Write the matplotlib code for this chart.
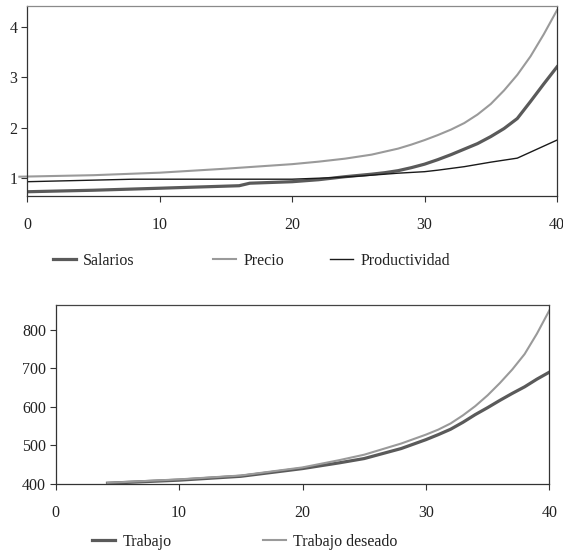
import matplotlib
matplotlib.use("Agg")
import matplotlib.pyplot as plt
from matplotlib.lines import Line2D

plt.rcParams['font.family'] = ['Liberation Serif', 'DejaVu Serif']

# ---- Top chart data ----
t_sal = [0, 5, 10, 16, 16.8, 20, 22, 24, 26, 27, 28, 29, 30, 31, 32, 33, 34, 35, 36, 37, 38, 39, 40]
salarios = [0.72, 0.75, 0.79, 0.84, 0.89, 0.92, 0.96, 1.02, 1.07, 1.10, 1.14, 1.20, 1.27, 1.36, 1.46, 1.57, 1.68, 1.82, 1.98, 2.18, 2.52, 2.87, 3.21]

t_pre = [-0.6, 5, 10, 15, 20, 22, 24, 26, 28, 29, 30, 31, 32, 33, 34, 35, 36, 37, 38, 39, 40]
precio = [1.02, 1.05, 1.10, 1.18, 1.27, 1.32, 1.38, 1.46, 1.58, 1.66, 1.75, 1.85, 1.96, 2.09, 2.26, 2.47, 2.74, 3.05, 3.42, 3.86, 4.34]

t_pro = [0, 8, 20, 23, 25, 28, 30, 31, 33, 35, 37, 40]
productividad = [0.92, 0.97, 0.97, 1.0, 1.03, 1.09, 1.12, 1.15, 1.22, 1.31, 1.39, 1.75]

top_labels = ["Salarios", "Precio", "Productividad"]

# ---- Bottom chart data ----
t_tra = [4.2, 10, 15, 20, 23, 25, 28, 30, 31, 32, 33, 34, 35, 36, 37, 38, 39, 40]
trabajo = [402, 410, 420, 440, 455, 466, 492, 515, 528, 542, 560, 580, 598, 617, 635, 652, 672, 690]

t_des = [4.2, 10, 15, 20, 23, 25, 28, 30, 31, 32, 33, 34, 35, 36, 37, 38, 39, 40]
trabajo_deseado = [403, 412, 422, 443, 462, 476, 505, 528, 541, 557, 578, 602, 630, 662, 697, 737, 790, 850]

bottom_labels = ["Trabajo", "Trabajo deseado"]

C_DARK = "#5a5a5a"
C_LIGHT = "#9a9a9a"
C_BLACK = "#1a1a1a"
W, H = 563, 552
FS = 11.5

fig = plt.figure(figsize=(W / 100, H / 100), dpi=100)

def box(l, r, b, t):
    return [l / W, 1 - b / H, (r - l) / W, (b - t) / H]

def style(ax, top_color):
    ax.spines["top"].set_color(top_color)
    for s in ("left", "bottom", "right"):
        ax.spines[s].set_color("#333333")
    for s in ax.spines.values():
        s.set_linewidth(0.9)
    ax.tick_params(axis="both", direction="out", length=4, width=0.8,
                   colors="#333333", labelsize=FS, labelcolor="#222222")
    ax.tick_params(axis="x", pad=11)
    ax.tick_params(axis="y", pad=3)

ax1 = fig.add_axes(box(27.3, 557, 196, 5.7))
ax1.plot(t_sal, salarios, color=C_DARK, lw=2.3, solid_joinstyle="round")
ax1.plot(t_pre, precio, color=C_LIGHT, lw=1.5, clip_on=False, solid_joinstyle="round")
ax1.plot(t_pro, productividad, color=C_BLACK, lw=1.0, solid_joinstyle="round")
ax1.set_xlim(0, 40)
ax1.set_ylim(0.635, 4.43)
ax1.set_xticks([0, 10, 20, 30, 40])
ax1.set_yticks([1, 2, 3, 4])
style(ax1, "#8a8a8a")

ax2 = fig.add_axes(box(55.7, 549.3, 484, 304.7))
ax2.plot(t_tra, trabajo, color=C_DARK, lw=2.3, solid_joinstyle="round")
ax2.plot(t_des, trabajo_deseado, color=C_LIGHT, lw=1.5, solid_joinstyle="round")
ax2.set_xlim(0, 40)
ax2.set_ylim(400, 865)
ax2.set_xticks([0, 10, 20, 30, 40])
ax2.set_yticks([400, 500, 600, 700, 800])
style(ax2, "#444444")

def entry(label, color, lw, x, y):
    h = Line2D([], [], color=color, lw=lw)
    fig.legend([h], [label], loc="center left", bbox_to_anchor=(x / W, 1 - y / H),
               frameon=False, fontsize=FS, handlelength=1.45, handletextpad=0.45,
               borderpad=0, borderaxespad=0, labelcolor="#222222")

top_colors = [C_DARK, C_LIGHT, C_BLACK]
top_lws = [2.3, 1.5, 1.0]
top_x = [53, 213, 330]
for lab, c, lw, x in zip(top_labels, top_colors, top_lws, top_x):
    entry(lab, c, lw, x, 261)

bot_colors = [C_DARK, C_LIGHT]
bot_lws = [2.3, 1.5]
bot_x = [92, 263]
for lab, c, lw, x in zip(bottom_labels, bot_colors, bot_lws, bot_x):
    entry(lab, c, lw, x, 542)

fig.savefig("out.png", dpi=100)
